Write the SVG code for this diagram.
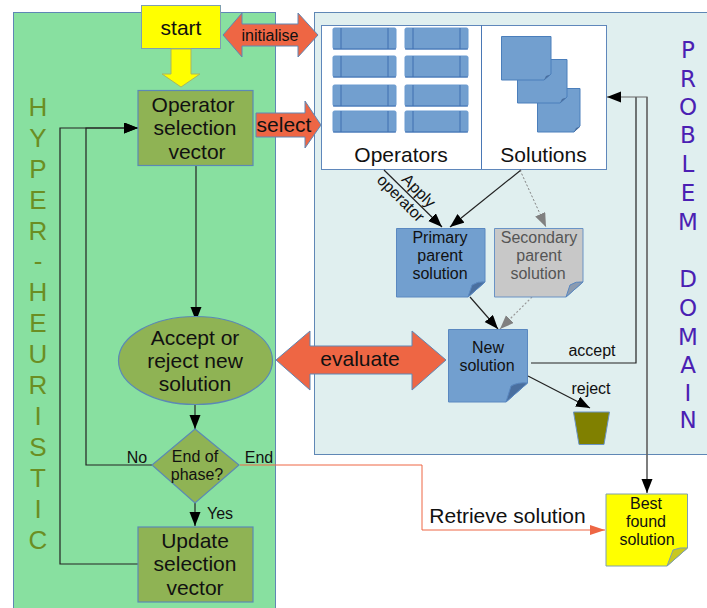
<svg xmlns="http://www.w3.org/2000/svg" width="707" height="608" viewBox="0 0 707 608">
<defs>
<marker id="ab" markerUnits="userSpaceOnUse" markerWidth="15" markerHeight="12" refX="14" refY="5.500" orient="auto"><path d="M0 0L14 5.500L0 11Z" fill="#000"/></marker>
<marker id="ag" markerUnits="userSpaceOnUse" markerWidth="15" markerHeight="12" refX="14" refY="5.500" orient="auto"><path d="M0 0L14 5.500L0 11Z" fill="#808080"/></marker>
<marker id="ao" markerUnits="userSpaceOnUse" markerWidth="16" markerHeight="12" refX="15" refY="5" orient="auto"><path d="M0 0L15 5L0 10Z" fill="#ee6644"/></marker>
<g id="op"><rect width="63" height="21" rx="1.500" fill="#729fcf" stroke="#6a9bd0"/><path d="M8 0V21M55 0V21M0 21H63" fill="none" stroke="#3e6fb0" stroke-width="1"/></g>
<g id="fold"><path d="M0 0L2 -4Q4 -5 6 -5Z" fill="#4a6f9f"/></g>
</defs>
<style>
text{font-family:"Liberation Sans",Arial,sans-serif;text-anchor:middle;fill:#111}
.c{fill:none;stroke:#222;stroke-width:1.200}
.n{stroke:#5b89b5;stroke-width:1.200;fill:#8fb354}
.ar{fill:#ee6644;stroke:#5f87b5;stroke-width:1}
.t18{font-size:21px}
.h{fill:#6b8e23;font-size:26px}
.p{fill:#4b1fb3;font-size:23px;font-family:"DejaVu Sans",sans-serif}
.s{font-size:16px}
.fold{fill:#4a6f9f;stroke:#5a88c0}
.sm{fill:#729fcf;stroke:#4a7ebb}
</style>
<g id="backgrounds">
<rect x="13.500" y="12.500" width="262" height="600" fill="#88e0a0" stroke="#5f87b5"/>
<rect x="314.500" y="12.500" width="400" height="442" fill="#e0efef" stroke="#5f87b5"/>
</g>
<g id="panel">
<rect x="321.500" y="25.500" width="285" height="144" fill="#fff" stroke="#5f87bb"/>
<path d="M481.500 25V169" stroke="#4a78b5" fill="none"/>
<use href="#op" x="333" y="28"/><use href="#op" x="405" y="28"/>
<use href="#op" x="333" y="56"/><use href="#op" x="405" y="56"/>
<use href="#op" x="333" y="85"/><use href="#op" x="405" y="85"/>
<use href="#op" x="333" y="111"/><use href="#op" x="405" y="111"/>
<path class="sm" d="M537.500 88.500H580V126L574 132H537.500Z"/><use href="#fold" x="574" y="132"/>
<path class="sm" d="M517.500 59.500H567V97L560 103H517.500Z"/><use href="#fold" x="560" y="103"/>
<path class="sm" d="M501.500 36.500H551V74L544 80H501.500Z"/><use href="#fold" x="544" y="80"/>
<text x="401" y="162" class="t18">Operators</text>
<text x="543.500" y="162" class="t18">Solutions</text>
</g>
<g id="connectors">
<path class="c" d="M196 166V321" marker-end="url(#ab)"/>
<path class="c" d="M195 405V429" marker-end="url(#ab)"/>
<path class="c" d="M195 503V526" marker-end="url(#ab)"/>
<path class="c" d="M152 465H86V128H138" marker-end="url(#ab)"/>
<path class="c" d="M138 564H60V128H138" marker-end="url(#ab)"/>
<path class="c" d="M384 170L442 227" marker-end="url(#ab)"/>
<path class="c" d="M521 170L450 227" marker-end="url(#ab)"/>
<path d="M520 170L546 227" fill="none" stroke="#808080" stroke-dasharray="2 2" marker-end="url(#ag)"/>
<path class="c" d="M470 297L498 329" marker-end="url(#ab)"/>
<path d="M532 297L500 329" fill="none" stroke="#999" stroke-width="1.200" stroke-dasharray="2 2" marker-end="url(#ag)"/>
<path class="c" d="M531 363H636V97" />
<path class="c" d="M528 376L590 408" marker-end="url(#ab)"/>
<path d="M647 493V97H607" fill="none" stroke="#666" stroke-width="1.200" marker-end="url(#ab)"/>
<path d="M647 97V493" fill="none" stroke="#666" stroke-width="1.200" marker-end="url(#ab)"/>
<path d="M240 465H422V530H605" fill="none" stroke="#ee6644" stroke-width="1" marker-end="url(#ao)"/>
</g>
<g id="start"><rect x="141.500" y="5.500" width="79" height="43" fill="#ffff00" stroke="#7f9fb0"/><text x="181" y="35" class="t18">start</text></g>
<path id="start-arrow" d="M171 49H191V74H200L181 87L162 74H171Z" fill="#ffff00" stroke="#a8b860"/>
<g id="initialise"><path class="ar" d="M223 35L242 13V24H298V13L318 35L298 57V46H242V57Z"/><text x="270" y="40.500" class="s">initialise</text></g>
<g id="select"><path class="ar" d="M256 113H305V101L321 125L305 148V137H256Z"/><text x="284" y="132" class="t18">select</text></g>
<g id="evaluate"><path class="ar" d="M276 360L310 331V346H412V331L446 360L412 390V374H310V390Z"/><text x="360" y="366" class="t18">evaluate</text></g>
<g id="opvector"><rect class="n" x="138" y="90.500" width="115" height="75"/><text x="193" y="112" class="t18">Operator</text><text x="195" y="135" class="t18">selection</text><text x="197" y="159" class="t18">vector</text></g>
<g id="accept"><ellipse class="n" cx="195.500" cy="360.500" rx="77" ry="44"/><text x="195" y="345" class="t18">Accept or</text><text x="195" y="368" class="t18">reject new</text><text x="195" y="391" class="t18">solution</text></g>
<g id="phase"><path class="n" d="M195 429L239 465L195 503L152 465Z"/><text x="195" y="462" class="s">End of</text><text x="197" y="480" class="s">phase?</text></g>
<g id="update"><rect class="n" x="138" y="527" width="115" height="75"/><text x="195" y="548" class="t18">Update</text><text x="195" y="571" class="t18">selection</text><text x="195" y="595" class="t18">vector</text></g>
<g id="labels">
<text x="137" y="463" class="s">No</text><text x="259" y="463" class="s">End</text><text x="220" y="519" class="s">Yes</text>
<text x="592" y="356" class="s">accept</text><text x="591" y="394" class="s">reject</text>
<text x="507.500" y="523" class="t18">Retrieve solution</text>
<text transform="translate(415 194.500) rotate(45)" class="s">Apply</text>
<text transform="translate(397 202) rotate(45)" class="s">operator</text>
</g>
<g id="primary"><path d="M396.500 228.500H485V282L468 297H396.500Z" fill="#729fcf" stroke="#5a88c0"/><path class="fold" d="M468 297L472 285Q478 281 485 282Z"/><text x="440" y="243" class="s">Primary</text><text x="440" y="261" class="s">parent</text><text x="440" y="279" class="s">solution</text></g>
<g id="secondary"><path d="M494.500 228.500H583V282L566 297H494.500Z" fill="#c8c8c8" stroke="#6a93c5"/><path class="fold" d="M566 297L570 285Q576 281 583 282Z" style="fill:#8b9bb0"/><text x="539" y="243" class="s" style="fill:#555">Secondary</text><text x="539" y="261" class="s" style="fill:#555">parent</text><text x="538" y="279" class="s" style="fill:#555">solution</text></g>
<g id="newsol"><path d="M448.500 329.500H527.500V383L506 402H448.500Z" fill="#729fcf" stroke="#5a88c0"/><path class="fold" d="M506 402L511 386Q518 382 527.500 383Z"/><text x="488" y="353" class="s">New</text><text x="487" y="371" class="s">solution</text></g>
<g id="bin"><path d="M573.500 412H609.500L604 444.500H579Z" fill="#808000" stroke="#6a93c5"/></g>
<g id="best"><path d="M606 494H687.500V548L667 566H606Z" fill="#ffff00" stroke="#7f9fb0"/><path d="M667 566L673 550Q680 547 687.500 548Z" fill="#c8c820" stroke="#7f9fb0"/><text x="646" y="509" class="s">Best</text><text x="646" y="527" class="s">found</text><text x="647" y="545" class="s">solution</text></g>
<g id="hyper">
<text x="38" y="116" class="h">H</text><text x="38" y="147" class="h">Y</text><text x="38" y="178" class="h">P</text><text x="38" y="209" class="h">E</text><text x="38" y="240" class="h">R</text><text x="38" y="270" class="h">-</text><text x="38" y="301" class="h">H</text><text x="38" y="332" class="h">E</text><text x="38" y="363" class="h">U</text><text x="38" y="394" class="h">R</text><text x="38" y="425" class="h">I</text><text x="38" y="456" class="h">S</text><text x="38" y="487" class="h">T</text><text x="38" y="518" class="h">I</text><text x="38" y="549" class="h">C</text>
</g>
<g id="problem">
<text x="688" y="58" class="p">P</text><text x="688" y="87" class="p">R</text><text x="688" y="115" class="p">O</text><text x="688" y="143" class="p">B</text><text x="688" y="172" class="p">L</text><text x="688" y="201" class="p">E</text><text x="688" y="230" class="p">M</text><text x="688" y="287" class="p">D</text><text x="688" y="316" class="p">O</text><text x="688" y="345" class="p">M</text><text x="688" y="373" class="p">A</text><text x="688" y="401" class="p">I</text><text x="688" y="428" class="p">N</text>
</g>
</svg>
